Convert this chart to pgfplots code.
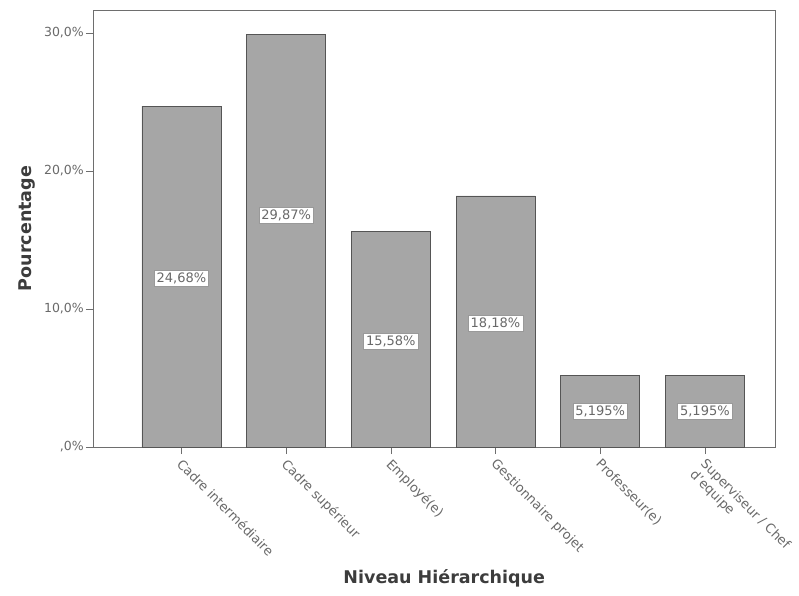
\documentclass[border=0pt]{standalone}
\usepackage{fontspec}
\setmainfont{DejaVu Sans}
\usepackage{pgfplots}
\pgfplotsset{compat=1.18}

\definecolor{barfill}{RGB}{166,166,166}
\definecolor{barline}{RGB}{85,85,85}
\definecolor{axisline}{RGB}{110,110,110}
\definecolor{ticktext}{RGB}{105,105,105}
\definecolor{labeltext}{RGB}{60,60,60}

\begin{document}
\begin{tikzpicture}[x=1pt,y=1pt]
\useasboundingbox (-93,-148) rectangle (706,447);
\begin{axis}[
    at={(0,0)}, anchor=south west,
    scale only axis,
    width=682pt, height=437pt,
    ybar, bar width=79pt, bar shift=0pt,
    xmin=-0.845, xmax=5.67,
    ymin=0, ymax=31.65,
    xtick={0,1,2,3,4,5},
    xticklabels={Cadre intermédiaire, Cadre supérieur, Employé(e), Gestionnaire projet, Professeur(e), {Superviseur / Chef\\d'equipe}},
    ytick={0,10,20,30},
    yticklabels={{,0\%},{10,0\%},{20,0\%},{30,0\%}},
    xtick pos=bottom, ytick pos=left,
    tick align=outside,
    major tick length=7pt,
    tick style={draw=axisline, thin},
    axis line style={draw=axisline},
    xticklabel style={rotate=-45, anchor=north west, align=left, xshift=3pt, font=\fontsize{13}{15}\selectfont, text=ticktext, inner sep=1pt},
    yticklabel style={font=\fontsize{12.5}{15}\selectfont, text=ticktext, inner sep=2pt},
    xlabel={Niveau Hiérarchique},
    ylabel={Pourcentage},
    every axis x label/.style={at={(axis description cs:0.515,-0.30)}, anchor=center, font=\bfseries\fontsize{17.5}{20}\selectfont, text=labeltext},
    every axis y label/.style={at={(axis description cs:-0.097,0.5)}, rotate=90, anchor=center, font=\bfseries\fontsize{17.5}{20}\selectfont, text=labeltext},
]
\addplot[fill=barfill, draw=barline, line width=0.8pt]
    coordinates {(0,24.68) (1,29.87) (2,15.58) (3,18.18) (4,5.195) (5,5.195)};
\addplot[draw=none, fill=none,
    nodes near coords,
    nodes near coords align=center,
    point meta=explicit symbolic,
    every node near coord/.append style={anchor=center, fill=white, draw=gray!80, line width=0.5pt, inner sep=2.5pt, text=ticktext, font=\fontsize{13}{15}\selectfont}]
    coordinates {(0,12.2)[24,68\%] (1,16.8)[29,87\%] (2,7.65)[15,58\%] (3,8.95)[18,18\%] (4,2.6)[5,195\%] (5,2.6)[5,195\%]};
\end{axis}
\end{tikzpicture}
\end{document}
